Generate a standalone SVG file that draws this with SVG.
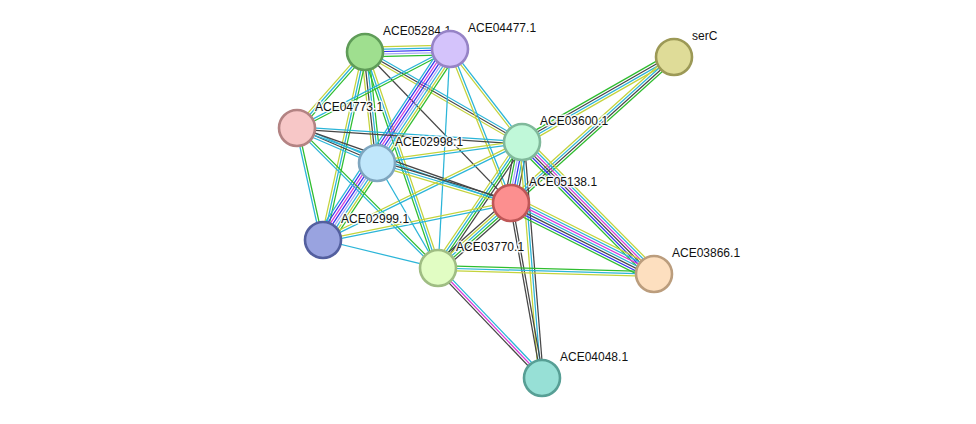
<svg xmlns="http://www.w3.org/2000/svg" width="976" height="424" viewBox="0 0 976 424">
<style>
line{stroke-width:1.25;fill:none}
.g{stroke:#2ebd2e}.y{stroke:#c4d33c}.c{stroke:#2bb5d8}.k{stroke:#464646}.m{stroke:#d83ad8}.b{stroke:#3333f0}.p{stroke:#a9a9f5}
.n circle{stroke-width:2.6}
text{font-family:"Liberation Sans",Arial,sans-serif;font-size:12px;fill:#111;stroke:#fff;stroke-width:3px;stroke-opacity:0.85;paint-order:stroke;stroke-linejoin:round}
</style>
<rect width="976" height="424" fill="#fff"/>
<g id="edges">
<g transform="translate(365 52) rotate(-1.35)"><line class="y" x2="85" y1="-4.8" y2="-4.8"/><line class="c" x2="85" y1="-2.4" y2="-2.4"/><line class="b" x2="85" y1="0" y2="0"/><line class="p" x2="85" y1="2.4" y2="2.4"/><line class="g" x2="85" y1="4.8" y2="4.8"/></g>
<g transform="translate(365 52) rotate(131.4)"><line class="g" x2="101" y1="-2.4" y2="-2.4"/><line class="c" x2="101" y1="0" y2="0"/><line class="y" x2="101" y1="2.4" y2="2.4"/></g>
<g transform="translate(365 52) rotate(83.8)"><line class="g" x2="112" y1="-3.6" y2="-3.6"/><line class="c" x2="112" y1="-1.2" y2="-1.2"/><line class="k" x2="112" y1="1.2" y2="1.2"/><line class="y" x2="112" y1="3.6" y2="3.6"/></g>
<g transform="translate(365 52) rotate(102.5)"><line class="g" x2="194" y1="-2.4" y2="-2.4"/><line class="c" x2="194" y1="0" y2="0"/><line class="y" x2="194" y1="2.4" y2="2.4"/></g>
<g transform="translate(365 52) rotate(71.3)"><line class="y" x2="228" y1="-2.4" y2="-2.4"/><line class="c" x2="228" y1="0" y2="0"/><line class="g" x2="228" y1="2.4" y2="2.4"/></g>
<g transform="translate(365 52) rotate(29.9)"><line class="c" x2="182" y1="-2.4" y2="-2.4"/><line class="k" x2="182" y1="0" y2="0"/><line class="y" x2="182" y1="2.4" y2="2.4"/></g>
<g transform="translate(365 52) rotate(46)"><line class="k" x2="210" y1="0" y2="0"/></g>
<g transform="translate(450 49) rotate(152.5)"><line class="g" x2="171" y1="-1.2" y2="-1.2"/><line class="c" x2="171" y1="1.2" y2="1.2"/></g>
<g transform="translate(450 49) rotate(123.5)"><line class="g" x2="230" y1="-8.4" y2="-8.4"/><line class="y" x2="230" y1="-6" y2="-6"/><line class="c" x2="230" y1="-3.6" y2="-3.6"/><line class="p" x2="230" y1="-1.2" y2="-1.2"/><line class="b" x2="230" y1="1.2" y2="1.2"/><line class="m" x2="230" y1="3.6" y2="3.6"/><line class="b" x2="230" y1="6" y2="6"/><line class="c" x2="230" y1="8.4" y2="8.4"/></g>
<g transform="translate(450 49) rotate(52.2)"><line class="c" x2="119" y1="-1.2" y2="-1.2"/><line class="y" x2="119" y1="1.2" y2="1.2"/></g>
<g transform="translate(450 49) rotate(68.4)"><line class="c" x2="166" y1="-1.2" y2="-1.2"/><line class="y" x2="166" y1="1.2" y2="1.2"/></g>
<g transform="translate(450 49) rotate(93.1)"><line class="c" x2="219" y1="0" y2="0"/></g>
<g transform="translate(297 128) rotate(3.8)"><line class="c" x2="225" y1="-1.2" y2="-1.2"/><line class="k" x2="225" y1="1.2" y2="1.2"/></g>
<g transform="translate(297 128) rotate(23.3)"><line class="c" x2="86" y1="-2.4" y2="-2.4"/><line class="k" x2="86" y1="0" y2="0"/><line class="c" x2="86" y1="2.4" y2="2.4"/></g>
<g transform="translate(297 128) rotate(19.4)"><line class="k" x2="226" y1="-1.2" y2="-1.2"/><line class="c" x2="226" y1="1.2" y2="1.2"/></g>
<g transform="translate(297 128) rotate(77.5)"><line class="g" x2="116" y1="-1.2" y2="-1.2"/><line class="c" x2="116" y1="1.2" y2="1.2"/></g>
<g transform="translate(297 128) rotate(45)"><line class="g" x2="198" y1="-1.2" y2="-1.2"/><line class="c" x2="198" y1="1.2" y2="1.2"/></g>
<g transform="translate(522 142) rotate(172.2)"><line class="c" x2="147" y1="-1.2" y2="-1.2"/><line class="y" x2="147" y1="1.2" y2="1.2"/></g>
<g transform="translate(522 142) rotate(-29.7)"><line class="g" x2="174" y1="-3.6" y2="-3.6"/><line class="k" x2="174" y1="-1.2" y2="-1.2"/><line class="c" x2="174" y1="1.2" y2="1.2"/><line class="y" x2="174" y1="3.6" y2="3.6"/></g>
<g transform="translate(511 203) rotate(-42)"><line class="y" x2="218" y1="-3.6" y2="-3.6"/><line class="c" x2="218" y1="-1.2" y2="-1.2"/><line class="k" x2="218" y1="1.2" y2="1.2"/><line class="g" x2="218" y1="3.6" y2="3.6"/></g>
<g transform="translate(522 142) rotate(101.1)"><line class="k" x2="62" y1="-6" y2="-6"/><line class="c" x2="62" y1="-3.6" y2="-3.6"/><line class="b" x2="62" y1="-1.2" y2="-1.2"/><line class="p" x2="62" y1="1.2" y2="1.2"/><line class="g" x2="62" y1="3.6" y2="3.6"/><line class="k" x2="62" y1="6" y2="6"/></g>
<g transform="translate(522 142) rotate(153.9)"><line class="c" x2="223" y1="-1.2" y2="-1.2"/><line class="y" x2="223" y1="1.2" y2="1.2"/></g>
<g transform="translate(522 142) rotate(124.2)"><line class="k" x2="151" y1="-3.6" y2="-3.6"/><line class="g" x2="151" y1="-1.2" y2="-1.2"/><line class="c" x2="151" y1="1.2" y2="1.2"/><line class="y" x2="151" y1="3.6" y2="3.6"/></g>
<g transform="translate(522 142) rotate(45.2)"><line class="y" x2="186" y1="-6" y2="-6"/><line class="c" x2="186" y1="-3.6" y2="-3.6"/><line class="m" x2="186" y1="-1.2" y2="-1.2"/><line class="k" x2="186" y1="1.2" y2="1.2"/><line class="b" x2="186" y1="3.6" y2="3.6"/><line class="g" x2="186" y1="6" y2="6"/></g>
<g transform="translate(522 142) rotate(85.4)"><line class="k" x2="236" y1="-2.4" y2="-2.4"/><line class="c" x2="236" y1="0" y2="0"/><line class="y" x2="236" y1="2.4" y2="2.4"/></g>
<g transform="translate(377 163) rotate(16.6)"><line class="k" x2="140" y1="-2.4" y2="-2.4"/><line class="c" x2="140" y1="0" y2="0"/><line class="y" x2="140" y1="2.4" y2="2.4"/></g>
<g transform="translate(377 163) rotate(59.8)"><line class="c" x2="121" y1="0" y2="0"/></g>
<g transform="translate(511 203) rotate(168.6)"><line class="c" x2="192" y1="-1.2" y2="-1.2"/><line class="y" x2="192" y1="1.2" y2="1.2"/></g>
<g transform="translate(511 203) rotate(138.3)"><line class="k" x2="98" y1="-4.8" y2="-4.8"/><line class="g" x2="98" y1="-2.4" y2="-2.4"/><line class="c" x2="98" y1="0" y2="0"/><line class="y" x2="98" y1="2.4" y2="2.4"/><line class="k" x2="98" y1="4.8" y2="4.8"/></g>
<g transform="translate(511 203) rotate(26.6)"><line class="y" x2="159" y1="-7.2" y2="-7.2"/><line class="c" x2="159" y1="-4.8" y2="-4.8"/><line class="m" x2="159" y1="-2.4" y2="-2.4"/><line class="c" x2="159" y1="0" y2="0"/><line class="k" x2="159" y1="2.4" y2="2.4"/><line class="b" x2="159" y1="4.8" y2="4.8"/><line class="g" x2="159" y1="7.2" y2="7.2"/></g>
<g transform="translate(511 203) rotate(79.9)"><line class="k" x2="177" y1="-1.2" y2="-1.2"/><line class="k" x2="177" y1="1.2" y2="1.2"/></g>
<g transform="translate(323 240) rotate(13.7)"><line class="c" x2="118" y1="0" y2="0"/></g>
<g transform="translate(438 268) rotate(1.6)"><line class="g" x2="215" y1="-2.4" y2="-2.4"/><line class="c" x2="215" y1="0" y2="0"/><line class="y" x2="215" y1="2.4" y2="2.4"/></g>
<g transform="translate(438 268) rotate(46.3)"><line class="c" x2="151" y1="-2.4" y2="-2.4"/><line class="m" x2="151" y1="0" y2="0"/><line class="k" x2="151" y1="2.4" y2="2.4"/></g>
</g>
<g id="ACE05284.1" class="n"><circle cx="365" cy="52" r="18" fill="#9fdf8f" stroke="#5f9c58"/><text x="383" y="35">ACE05284.1</text></g>
<g id="ACE04477.1" class="n"><circle cx="450" cy="49" r="18" fill="#d4c3fb" stroke="#9683c6"/><text x="468" y="32">ACE04477.1</text></g>
<g id="serC" class="n"><circle cx="674" cy="57" r="18" fill="#dfdc98" stroke="#9c9956"/><text x="692" y="40">serC</text></g>
<g id="ACE04773.1" class="n"><circle cx="297" cy="128" r="18" fill="#f7c7c7" stroke="#b38383"/><text x="315" y="111">ACE04773.1</text></g>
<g id="ACE03600.1" class="n"><circle cx="522" cy="142" r="18" fill="#c0f8d9" stroke="#80b99b"/><text x="540" y="125">ACE03600.1</text></g>
<g id="ACE02998.1" class="n"><circle cx="377" cy="163" r="18" fill="#c0e7fb" stroke="#7fa6bf"/><text x="395" y="146">ACE02998.1</text></g>
<g id="ACE05138.1" class="n"><circle cx="511" cy="203" r="18" fill="#fc8f8f" stroke="#bf5757"/><text x="529" y="186">ACE05138.1</text></g>
<g id="ACE02999.1" class="n"><circle cx="323" cy="240" r="18" fill="#99a3e0" stroke="#535f9f"/><text x="341" y="223">ACE02999.1</text></g>
<g id="ACE03770.1" class="n"><circle cx="438" cy="268" r="18" fill="#e1fdc3" stroke="#9fbd83"/><text x="456" y="251">ACE03770.1</text></g>
<g id="ACE03866.1" class="n"><circle cx="654" cy="274" r="18" fill="#fddfbf" stroke="#bb9d7d"/><text x="672" y="257">ACE03866.1</text></g>
<g id="ACE04048.1" class="n"><circle cx="542" cy="378" r="18" fill="#97e0d6" stroke="#579f95"/><text x="560" y="361">ACE04048.1</text></g>
</svg>
